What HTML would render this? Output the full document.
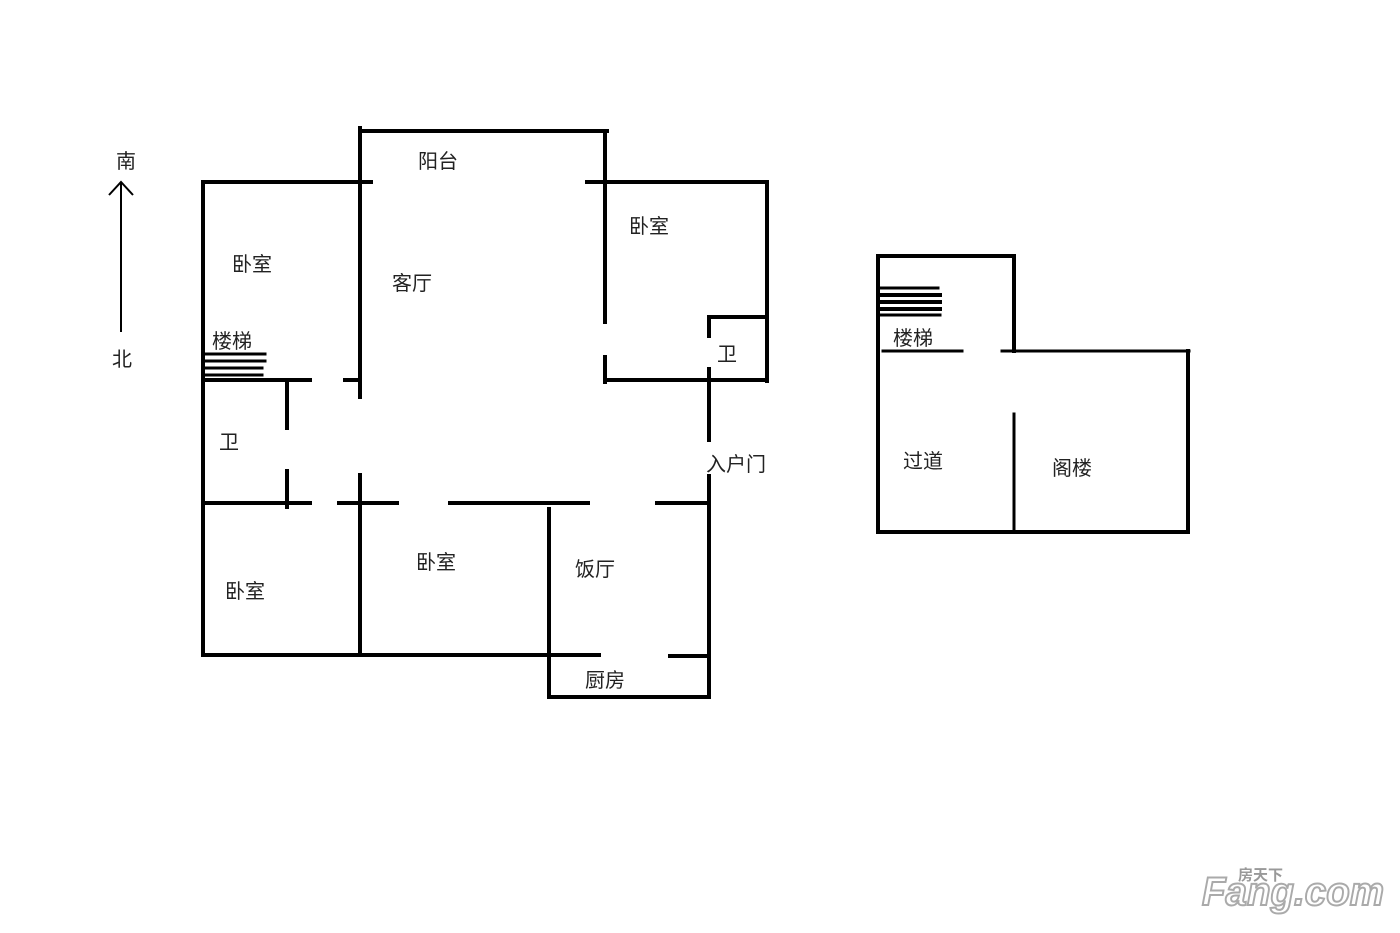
<!DOCTYPE html>
<html><head><meta charset="utf-8"><style>
html,body{margin:0;padding:0;background:#fff;}
svg{display:block}
text{font-family:"Liberation Sans","Noto Sans CJK SC",sans-serif;font-size:20px;fill:#222}
</style></head><body>
<svg width="1400" height="933" viewBox="0 0 1400 933">
<g stroke="#000" stroke-width="4" fill="none" stroke-linecap="square">
<line x1="360" y1="131" x2="607" y2="131"/>
<line x1="360" y1="128" x2="360" y2="397"/>
<line x1="605" y1="131" x2="605" y2="322"/>
<line x1="605" y1="357" x2="605" y2="382"/>
<line x1="203" y1="182" x2="371" y2="182"/>
<line x1="203" y1="182" x2="203" y2="655"/>
<line x1="587" y1="182" x2="767" y2="182"/>
<line x1="767" y1="182" x2="767" y2="381"/>
<line x1="605" y1="380" x2="767" y2="380"/>
<line x1="709" y1="317" x2="767" y2="317"/>
<line x1="709" y1="317" x2="709" y2="336"/>
<line x1="709" y1="369" x2="709" y2="440"/>
<line x1="709" y1="476" x2="709" y2="697"/>
<line x1="203" y1="380" x2="310" y2="380"/>
<line x1="345" y1="380" x2="358" y2="380"/>
<line x1="287" y1="382" x2="287" y2="428"/>
<line x1="287" y1="471" x2="287" y2="507"/>
<line x1="203" y1="503" x2="310" y2="503"/>
<line x1="339" y1="503" x2="397" y2="503"/>
<line x1="450" y1="503" x2="588" y2="503"/>
<line x1="657" y1="503" x2="709" y2="503"/>
<line x1="360" y1="475" x2="360" y2="655"/>
<line x1="203" y1="655" x2="599" y2="655"/>
<line x1="670" y1="656" x2="709" y2="656"/>
<line x1="549" y1="509" x2="549" y2="697"/>
<line x1="549" y1="697" x2="709" y2="697"/>
<line x1="205" y1="354" x2="265" y2="354" stroke-width="3"/>
<line x1="205" y1="361" x2="265" y2="361" stroke-width="3"/>
<line x1="205" y1="368" x2="262" y2="368" stroke-width="3"/>
<line x1="205" y1="375" x2="262" y2="375" stroke-width="3"/>
<line x1="878" y1="256" x2="1014" y2="256"/>
<line x1="878" y1="256" x2="878" y2="532"/>
<line x1="878" y1="532" x2="1188" y2="532"/>
<line x1="1188" y1="351" x2="1188" y2="532"/>
<line x1="1014" y1="256" x2="1014" y2="351"/>
<line x1="1002" y1="351" x2="1189" y2="351" stroke-width="3"/>
<line x1="883" y1="351" x2="962" y2="351" stroke-width="3"/>
<line x1="1014" y1="414" x2="1014" y2="532" stroke-width="3"/>
<line x1="881" y1="288" x2="938" y2="288" stroke-width="3"/>
<line x1="881" y1="295" x2="940" y2="295" stroke-width="4"/>
<line x1="881" y1="302" x2="940" y2="302" stroke-width="4"/>
<line x1="881" y1="309" x2="940" y2="309" stroke-width="4"/>
<line x1="881" y1="315" x2="940" y2="315" stroke-width="3"/>
</g>
<g stroke="#000" stroke-width="2" fill="none">
<line x1="121" y1="182" x2="121" y2="332"/>
<polyline points="109,195 121,182 133,195"/>
</g>
<text x="116" y="168">南</text>
<text x="112" y="366">北</text>
<text x="418" y="168">阳台</text>
<text x="232" y="271">卧室</text>
<text x="392" y="290">客厅</text>
<text x="629" y="233">卧室</text>
<text x="212" y="348">楼梯</text>
<text x="717" y="361">卫</text>
<text x="219" y="449">卫</text>
<text x="706" y="471">入户门</text>
<text x="416" y="569">卧室</text>
<text x="575" y="576">饭厅</text>
<text x="225" y="598">卧室</text>
<text x="585" y="687">厨房</text>
<text x="893" y="345">楼梯</text>
<text x="903" y="468">过道</text>
<text x="1052" y="475">阁楼</text>
<text x="1202" y="905" textLength="182" lengthAdjust="spacingAndGlyphs" style="font-size:40px;font-weight:bold;fill:#fff;stroke:#aaa;stroke-width:2;font-style:italic">Fang.com</text>
<text x="1238" y="880" style="font-size:15px;fill:#999;font-weight:bold">房天下</text>
</svg>
</body></html>
